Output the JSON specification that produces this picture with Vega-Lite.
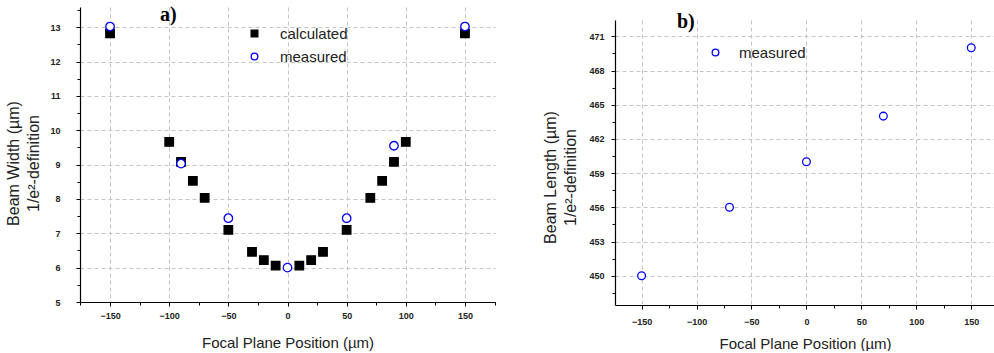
{
  "$schema": "https://vega.github.io/schema/vega-lite/v6.json",
  "padding": {"left": 5, "top": 5, "right": 0, "bottom": 0},
  "background": "white",
  "datasets": {
    "a": [
      {"series": "calculated", "x": -150, "y": 12.82},
      {"series": "calculated", "x": -100, "y": 9.66},
      {"series": "calculated", "x": -90, "y": 9.08},
      {"series": "calculated", "x": -80, "y": 8.53},
      {"series": "calculated", "x": -70, "y": 8.03},
      {"series": "calculated", "x": -50, "y": 7.1},
      {"series": "calculated", "x": -30, "y": 6.46},
      {"series": "calculated", "x": -20, "y": 6.22},
      {"series": "calculated", "x": -10, "y": 6.06},
      {"series": "calculated", "x": 10, "y": 6.06},
      {"series": "calculated", "x": 20, "y": 6.22},
      {"series": "calculated", "x": 30, "y": 6.46},
      {"series": "calculated", "x": 50, "y": 7.1},
      {"series": "calculated", "x": 70, "y": 8.03},
      {"series": "calculated", "x": 80, "y": 8.53},
      {"series": "calculated", "x": 90, "y": 9.08},
      {"series": "calculated", "x": 100, "y": 9.66},
      {"series": "calculated", "x": 150, "y": 12.82},
      {"series": "measured", "x": -150, "y": 13.02},
      {"series": "measured", "x": -90, "y": 9.03},
      {"series": "measured", "x": -50, "y": 7.44},
      {"series": "measured", "x": 0, "y": 6.0},
      {"series": "measured", "x": 50, "y": 7.44},
      {"series": "measured", "x": 90, "y": 9.55},
      {"series": "measured", "x": 150, "y": 13.02}
    ],
    "b": [
      {"series": "measured", "x": -150, "y": 450},
      {"series": "measured", "x": -70, "y": 456},
      {"series": "measured", "x": 0, "y": 460},
      {"series": "measured", "x": 70, "y": 464},
      {"series": "measured", "x": 150, "y": 470}
    ]
  },
  "spacing": 46,
  "resolve": {
    "scale": {"shape": "independent", "fill": "independent", "stroke": "independent"},
    "legend": {"shape": "independent", "fill": "independent", "stroke": "independent"}
  },
  "hconcat": [
    {
      "width": 415,
      "height": 295,
      "title": {"text": "a)", "anchor": "start", "frame": "group", "dx": 80, "offset": -34, "baseline": "alphabetic", "font": "Liberation Serif", "fontSize": 20, "fontWeight": "bold", "color": "#000"},
      "data": {"name": "a"},
      "layer": [
        {
          "mark": {"type": "point", "strokeWidth": 1.3, "opacity": 1, "size": 72},
          "encoding": {
            "x": {"field": "x", "type": "quantitative", "scale": {"domain": [-175.4, 175.4], "nice": false, "zero": false},
              "axis": {"values": [-150, -100, -50, 0, 50, 100, 150], "title": "Focal Plane Position (µm)", "grid": true, "labelPadding": 5, "titlePadding": 15, "titleFontSize": 15}},
            "y": {"field": "y", "type": "quantitative", "scale": {"domain": [5, 13.59], "nice": false, "zero": false},
              "axis": {"values": [5, 6, 7, 8, 9, 10, 11, 12, 13], "title": ["Beam Width (µm)", "1/e²-definition"], "grid": true, "labelPadding": 16, "titlePadding": 8, "titleY": 156}},
            "shape": {"field": "series", "type": "nominal", "scale": {"domain": ["calculated", "measured"], "range": ["square", "circle"]},
              "legend": {"title": null, "orient": "none", "legendX": 167, "legendY": 19, "rowPadding": 7, "labelOffset": 18, "symbolSize": 45, "symbolStrokeWidth": 1.3}},
            "fill": {"field": "series", "type": "nominal", "scale": {"domain": ["calculated", "measured"], "range": ["#000000", "#ffffff"]},
              "legend": {"title": null, "orient": "none", "legendX": 167, "legendY": 19, "rowPadding": 7, "labelOffset": 18, "symbolSize": 45, "symbolStrokeWidth": 1.3}},
            "stroke": {"field": "series", "type": "nominal", "scale": {"domain": ["calculated", "measured"], "range": ["#000000", "#0000ff"]},
              "legend": {"title": null, "orient": "none", "legendX": 167, "legendY": 19, "rowPadding": 7, "labelOffset": 18, "symbolSize": 45, "symbolStrokeWidth": 1.3}}
          }
        },
        {
          "mark": {"type": "point", "opacity": 0},
          "encoding": {
            "x": {"field": "x", "type": "quantitative", "axis": {"orient": "bottom", "values": [-175, -125, -75, -25, 25, 75, 125, 175], "labels": false, "grid": false, "domain": false, "tickSize": 3, "title": null}},
            "y": {"field": "y", "type": "quantitative", "axis": {"orient": "left", "values": [5.5, 6.5, 7.5, 8.5, 9.5, 10.5, 11.5, 12.5, 13.5], "labels": false, "grid": false, "domain": false, "tickSize": 3, "title": null}}
          }
        }
      ],
      "resolve": {"axis": {"x": "independent", "y": "independent"}}
    },
    {
      "spacing": 3,
      "resolve": {
        "scale": {"stroke": "independent"},
        "legend": {"stroke": "independent"}
      },
      "vconcat": [
        {
          "width": 380,
          "height": 1,
          "data": {"values": []},
          "mark": {"type": "point", "opacity": 0}
        },
        {
          "width": 380,
          "height": 285,
          "title": {"text": "b)", "anchor": "start", "frame": "group", "dx": 62, "offset": -27.7, "baseline": "alphabetic", "font": "Liberation Serif", "fontSize": 20, "fontWeight": "bold", "color": "#000"},
          "data": {"name": "b"},
          "layer": [
            {
              "mark": {"type": "point", "filled": false, "strokeWidth": 1.3, "size": 60, "fill": "#ffffff", "opacity": 1},
              "encoding": {
                "x": {"field": "x", "type": "quantitative", "scale": {"domain": [-174.2, 171.6], "nice": false, "zero": false},
                  "axis": {"values": [-150, -100, -50, 0, 50, 100, 150], "title": "Focal Plane Position (µm)", "grid": true, "labelPadding": 8, "titlePadding": 10, "titleFontSize": 15}},
                "y": {"field": "y", "type": "quantitative", "scale": {"domain": [447.43, 472.43], "nice": false, "zero": false},
                  "axis": {"values": [450, 453, 456, 459, 462, 465, 468, 471], "title": ["Beam Length (µm)", "1/e²-definition"], "grid": true, "labelPadding": 7, "titlePadding": 10, "titleY": 157}},
                "stroke": {"field": "series", "type": "nominal", "scale": {"domain": ["measured"], "range": ["#0000ff"]},
                  "legend": {"title": null, "orient": "none", "legendX": 93, "legendY": 25, "labelOffset": 16, "symbolSize": 45, "symbolStrokeWidth": 1.3, "symbolType": "circle", "symbolFillColor": "#ffffff"}}
              }
            },
            {
              "mark": {"type": "point", "opacity": 0},
              "encoding": {
                "x": {"field": "x", "type": "quantitative", "axis": {"orient": "bottom", "values": [-125, -75, -25, 25, 75, 125], "labels": false, "grid": false, "domain": false, "tickSize": 3, "title": null}},
                "y": {"field": "y", "type": "quantitative", "axis": {"orient": "left", "values": [448.5, 451.5, 454.5, 457.5, 460.5, 463.5, 466.5, 469.5], "labels": false, "grid": false, "domain": false, "tickSize": 3, "title": null}}
              }
            }
          ],
          "resolve": {"axis": {"x": "independent", "y": "independent"}}
        }
      ]
    }
  ],
  "config": {
    "view": {"stroke": null},
    "axis": {
      "domainColor": "#000000",
      "domainWidth": 1.2,
      "tickColor": "#000000",
      "tickWidth": 1,
      "tickSize": 4,
      "labelFont": "Liberation Sans",
      "labelFontSize": 9,
      "labelFontWeight": "bold",
      "labelColor": "#222222",
      "labelPadding": 8,
      "titleFont": "Liberation Sans",
      "titleFontSize": 16,
      "titleFontWeight": "normal",
      "titleColor": "#222222",
      "titleLineHeight": 20,
      "gridColor": "#c4c4c4",
      "gridDash": [4, 3],
      "gridWidth": 1
    },
    "legend": {
      "labelFont": "Liberation Sans",
      "labelFontSize": 15,
      "labelColor": "#222222",
      "padding": 0
    }
  }
}
